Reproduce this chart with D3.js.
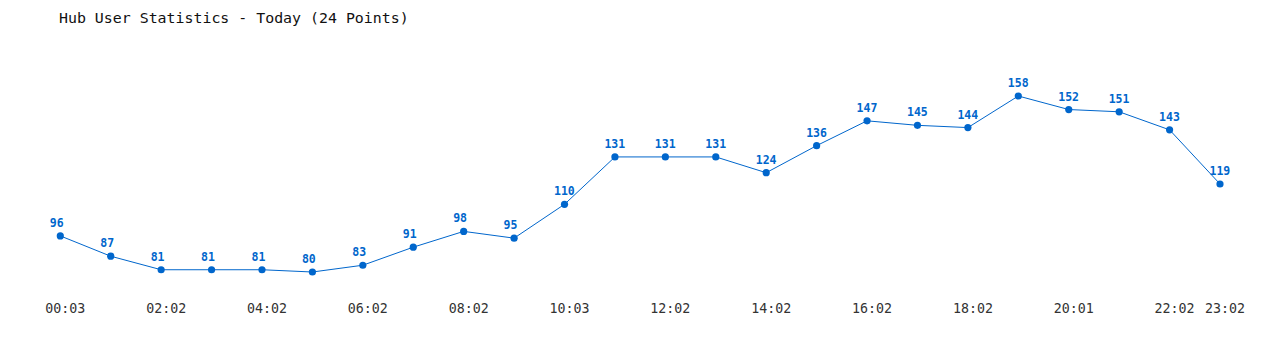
<!DOCTYPE html>
<html>
<head>
<meta charset="utf-8">
<script src="https://d3js.org/d3.v7.min.js"></script>
<style>
  body { margin: 0; background: #fff; }
  svg { display: block; }
  .tick line, .domain { display: none; }
</style>
</head>
<body>
<div id="chart"></div>
<script>
// hourly samples, odd hours not labelled on the chart (times guessed)
const times = [
  '00:03', '01:02', '02:02', '03:02', '04:02', '05:02', '06:02', '07:02',
  '08:02', '09:02', '10:03', '11:02', '12:02', '13:02', '14:02', '15:02',
  '16:02', '17:02', '18:02', '19:02', '20:01', '21:02', '22:02', '23:02',
];
const users = [
  96, 87, 81, 81, 81, 80, 83, 91, 98, 95, 110, 131,
  131, 131, 124, 136, 147, 145, 144, 158, 152, 151, 143, 119,
];
const shownTicks = [
  '00:03', '02:02', '04:02', '06:02', '08:02', '10:03', '12:02',
  '14:02', '16:02', '18:02', '20:01', '22:02', '23:02',
];
const title = 'Hub User Statistics - Today (24 Points)';

const W = 1280, H = 350;
const blue = '#0066cc';
const mono = "'DejaVu Sans Mono', 'Liberation Mono', monospace";

const svg = d3.select('#chart').append('svg')
  .attr('width', W)
  .attr('height', H);

const x = d3.scalePoint().domain(times).range([60.3, 1220]);
const y = d3.scaleLinear().domain([d3.min(users), d3.max(users)]).range([272, 96]);

const data = times.map((t, i) => ({ t, v: users[i] }));

svg.append('text')
  .attr('x', 59)
  .attr('y', 23)
  .attr('font-family', mono)
  .attr('font-size', '14.9px')
  .attr('fill', '#111')
  .text(title);

// x axis labels only
svg.append('g')
  .attr('transform', 'translate(4.5,300)')
  .call(d3.axisBottom(x).tickValues(shownTicks).tickSize(0).tickPadding(0))
  .call((g) => g.selectAll('text')
    .attr('dy', '13px')
    .attr('font-family', mono)
    .attr('font-size', '13.3px')
    .attr('fill', '#333'));

const line = d3.line()
  .x((d) => x(d.t))
  .y((d) => y(d.v));

svg.append('path')
  .datum(data)
  .attr('d', line)
  .attr('fill', 'none')
  .attr('stroke', blue)
  .attr('stroke-width', 1);

svg.selectAll('circle')
  .data(data)
  .enter()
  .append('circle')
  .attr('cx', (d) => x(d.t))
  .attr('cy', (d) => y(d.v))
  .attr('r', 3.6)
  .attr('fill', blue);

// value labels start a little left of each point
svg.selectAll('text.val')
  .data(data)
  .enter()
  .append('text')
  .attr('class', 'val')
  .attr('x', (d) => x(d.t) - 10.5)
  .attr('y', (d) => y(d.v) - 9)
  .attr('font-family', mono)
  .attr('font-size', '11.5px')
  .attr('font-weight', 'bold')
  .attr('fill', blue)
  .text((d) => d.v);
</script>
</body>
</html>
